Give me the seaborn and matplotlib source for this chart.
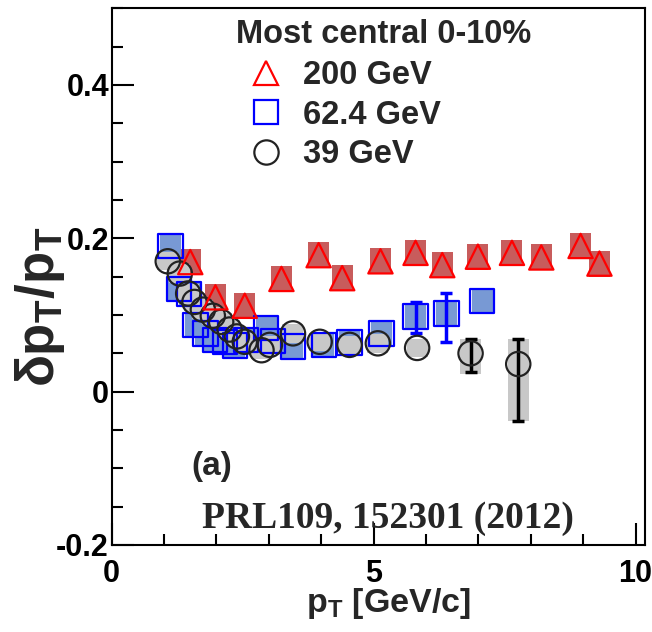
import matplotlib
matplotlib.use("Agg")
import matplotlib.pyplot as plt
import numpy as np
import pandas as pd
import seaborn as sns
from matplotlib.lines import Line2D
from matplotlib.ticker import MultipleLocator

# ---------------- data ----------------
pt_200 = [1.50, 1.98, 2.54, 3.24, 3.95, 4.40, 5.13, 5.80, 6.31, 6.99, 7.64, 8.20, 8.95, 9.31]
val_200 = [0.169, 0.123, 0.112, 0.147, 0.178, 0.148, 0.170, 0.181, 0.165, 0.176, 0.181, 0.175, 0.190, 0.167]
sys_200 = [0.017, 0.017, 0.017, 0.017, 0.017, 0.017, 0.017, 0.017, 0.017, 0.017, 0.017, 0.017, 0.017, 0.017]

pt_62 = [1.12, 1.28, 1.48, 1.60, 1.79, 1.97, 2.16, 2.35, 2.57, 2.95, 3.08, 3.46, 4.05, 4.54, 5.15, 5.80, 6.39, 7.07]
val_62 = [0.190, 0.134, 0.127, 0.087, 0.076, 0.067, 0.065, 0.060, 0.067, 0.083, 0.066, 0.059, 0.061, 0.064, 0.076, 0.098, 0.102, 0.118]
sys_62 = [0.015, 0.015, 0.015, 0.015, 0.015, 0.015, 0.015, 0.015, 0.015, 0.015, 0.015, 0.015, 0.015, 0.015, 0.015, 0.015, 0.015, 0.015]
stat_62_x = [5.80, 6.39]
stat_62_y = [0.098, 0.102]
stat_62_lo = [0.021, 0.037]
stat_62_hi = [0.019, 0.027]

pt_39 = [1.07, 1.30, 1.46, 1.58, 1.74, 1.93, 2.09, 2.25, 2.39, 2.54, 2.86, 3.02, 3.46, 3.97, 4.54, 5.08, 5.83, 6.85, 7.76]
val_39 = [0.170, 0.154, 0.128, 0.117, 0.107, 0.099, 0.091, 0.081, 0.072, 0.065, 0.054, 0.061, 0.076, 0.065, 0.061, 0.063, 0.057, 0.050, 0.036]
sys_39_lo = [0.012, 0.012, 0.012, 0.012, 0.012, 0.012, 0.012, 0.012, 0.012, 0.012, 0.012, 0.012, 0.012, 0.012, 0.012, 0.012, 0.012, 0.027, 0.074]
sys_39_hi = [0.012, 0.012, 0.012, 0.012, 0.012, 0.012, 0.012, 0.012, 0.012, 0.012, 0.012, 0.012, 0.012, 0.012, 0.012, 0.012, 0.012, 0.018, 0.032]
stat_39_x = [6.85, 7.76]
stat_39_y = [0.050, 0.036]
stat_39_lo = [0.025, 0.074]
stat_39_hi = [0.019, 0.032]

legend_title = "Most central 0-10%"
series_labels = ["200 GeV", "62.4 GeV", "39 GeV"]
yticks = [-0.2, 0.0, 0.2, 0.4]
ytick_labels = ["-0.2", "0", "0.2", "0.4"]
xticks = [0, 5, 10]
xtick_labels = ["0", "5", "10"]

# ---------------- style ----------------
sns.set_theme(style="white")
plt.rcParams["font.family"] = ["Liberation Sans", "DejaVu Sans"]
plt.rcParams["font.weight"] = "bold"
plt.rcParams["mathtext.fontset"] = "custom"
plt.rcParams["mathtext.rm"] = "Liberation Sans:bold"
plt.rcParams["mathtext.it"] = "Liberation Sans:bold"
plt.rcParams["mathtext.bf"] = "Liberation Sans:bold"

fig = plt.figure(figsize=(6.52, 6.32), dpi=100)
ax = fig.add_axes([0.1713, 0.1377, 0.8180, 0.8492])

RED_BOX = "#c85c5c"
BLUE_BOX = "#7899d4"
GRAY_BOX = "#c8c8c8"
BW = 0.40

# systematic boxes
ax.bar(pt_200, 2 * np.array(sys_200), bottom=np.array(val_200) - np.array(sys_200),
       width=BW, color=RED_BOX, linewidth=0, zorder=1)
ax.bar(pt_62, 2 * np.array(sys_62), bottom=np.array(val_62) - np.array(sys_62),
       width=BW, color=BLUE_BOX, linewidth=0, zorder=1)
ax.bar(pt_39, np.array(sys_39_lo) + np.array(sys_39_hi), bottom=np.array(val_39) - np.array(sys_39_lo),
       width=BW, color=GRAY_BOX, linewidth=0, zorder=1)

# statistical error bars
ax.errorbar(stat_62_x, stat_62_y, yerr=[stat_62_lo, stat_62_hi], fmt="none",
            ecolor="blue", elinewidth=2.5, capsize=4, capthick=2.5, zorder=2)
ax.errorbar(stat_39_x, stat_39_y, yerr=[stat_39_lo, stat_39_hi], fmt="none",
            ecolor="black", elinewidth=2.5, capsize=4, capthick=2.5, zorder=2)

MS = 17.5
df200 = pd.DataFrame({"pt": pt_200, "v": val_200})
df62 = pd.DataFrame({"pt": pt_62, "v": val_62})
df39 = pd.DataFrame({"pt": pt_39, "v": val_39})
sns.scatterplot(data=df62, x="pt", y="v", marker="s", s=MS**2, facecolors="none",
                edgecolor="blue", linewidth=1.6, ax=ax, zorder=3, legend=False)
sns.scatterplot(data=df39, x="pt", y="v", marker="o", s=MS**2, facecolors="none",
                edgecolor="#222222", linewidth=1.6, ax=ax, zorder=3, legend=False)
sns.scatterplot(data=df200, x="pt", y="v", marker="^", s=MS**2, facecolors="none",
                edgecolor="red", linewidth=1.6, ax=ax, zorder=4, legend=False)

# axes
ax.set_xlim(0, 10.18)
ax.set_ylim(-0.2, 0.5)
ax.set_xticks(xticks, xtick_labels)
ax.set_yticks(yticks, ytick_labels)
ax.xaxis.set_minor_locator(MultipleLocator(1))
ax.yaxis.set_minor_locator(MultipleLocator(0.05))
ax.tick_params(which="major", direction="in", length=16, width=1.5, labelsize=22,
               bottom=True, left=True, top=False, right=False, colors="black")
ax.tick_params(which="minor", direction="in", length=8, width=1.5,
               bottom=True, left=True, top=False, right=False, colors="black")
ax.tick_params(axis="x", which="major", pad=10)
ax.tick_params(axis="y", which="major", pad=2)
for sp in ax.spines.values():
    sp.set_visible(True)
    sp.set_color("black")
    sp.set_linewidth(1.5)
ax.grid(False)

ax.set_xlabel(r"p$_{T}$ [GeV/c]", fontsize=24.5, fontweight="bold")
ax.set_ylabel(r"$\delta$p$_{T}$/p$_{T}$", fontsize=38, fontweight="bold")
ax.xaxis.set_label_coords(0.519, -0.077)
ax.yaxis.set_label_coords(-0.083, 0.443)

# legend
ax.text(0.234, 0.980, legend_title, transform=ax.transAxes, fontsize=23.5,
        fontweight="bold", ha="left", va="top")
handles = [
    Line2D([], [], marker="^", ls="none", mfc="none", mec="red", ms=MS, mew=1.6),
    Line2D([], [], marker="s", ls="none", mfc="none", mec="blue", ms=MS, mew=1.6),
    Line2D([], [], marker="o", ls="none", mfc="none", mec="#222222", ms=MS, mew=1.6),
]
ax.legend(handles, series_labels, loc="upper left", bbox_to_anchor=(0.258, 0.903),
          frameon=False, prop={"weight": "bold", "size": 23.5},
          handlelength=1.0, handletextpad=0.635, labelspacing=0.26, borderpad=0,
          borderaxespad=0)

ax.text(0.150, 0.130, "(a)", transform=ax.transAxes, fontsize=24,
        fontweight="bold", ha="left", va="baseline")
ax.text(0.518, 0.032, "PRL109, 152301 (2012)", transform=ax.transAxes, fontsize=27,
        fontweight="bold", family=["Liberation Serif", "DejaVu Serif"],
        ha="center", va="baseline")

fig.savefig("out.png", dpi=100)
